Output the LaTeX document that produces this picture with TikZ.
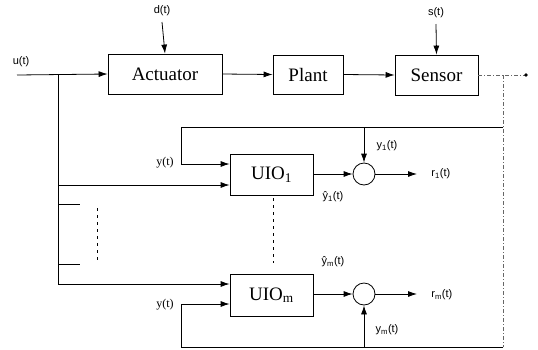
\documentclass[tikz,border=0pt]{standalone}
\usepackage{fontspec}
\setmainfont{Liberation Serif}
\newfontfamily\lblfont{Liberation Sans}
\usetikzlibrary{arrows.meta}
\begin{document}
\begin{tikzpicture}[x=1pt,y=-1pt,
  every path/.style={line width=0.8pt},
  blk/.style={draw,line width=0.8pt,inner sep=0pt,font=\fontsize{19}{20}\selectfont},
  sumc/.style={draw,circle,minimum size=22pt,inner sep=0pt,line width=0.8pt},
  arr/.style={-{Latex[length=9pt,width=6pt]}},
  lbl/.style={font=\lblfont\fontsize{11}{12}\selectfont,inner sep=1pt},
  slbl/.style={font=\fontsize{12}{13}\selectfont,inner sep=1pt},
  gdash/.style={draw=black!60,dash pattern=on 4pt off 2pt on 1pt off 2pt,line width=0.6pt}]
\useasboundingbox (0,0) rectangle (538,349);

% main blocks
\node[blk,minimum width=114pt,minimum height=40pt] (act) at (165,74) {Actuator};
\node[blk,minimum width=70pt,minimum height=39pt] (plant) at (308,74.5) {Plant};
\node[blk,minimum width=83pt,minimum height=40pt] (sens) at (436.5,75) {Sensor};
\node[blk,minimum width=83pt,minimum height=41pt] (uio1) at (271.5,174.5) {UIO\textsubscript{1}};
\node[blk,minimum width=83pt,minimum height=42pt] (uiom) at (271.5,295) {UIO\textsubscript{m}};
\node[sumc] (s1) at (364,174) {};
\node[sumc] (sm) at (364,294) {};

% coordinates
\coordinate (uin) at (17,75);
\coordinate (br) at (58,75);
\coordinate (b1) at (58,185);
\coordinate (bm) at (58,284);
\coordinate (st1a) at (58,204);
\coordinate (st1b) at (80,204);
\coordinate (st2a) at (58,264);
\coordinate (st2b) at (80,264);
\coordinate (dv1) at (97,208);
\coordinate (dv2) at (97,263);
\coordinate (dv3) at (273,198);
\coordinate (dv4) at (273,263);
\coordinate (din) at (162,22);
\coordinate (sin) at (436,24);
\coordinate (oend) at (526,75);
\coordinate (tap) at (503,75);
\coordinate (tapT) at (503,127);
\coordinate (tapB) at (503,347);
\coordinate (cT) at (181,127);
\coordinate (cT2) at (181,164);
\coordinate (cB) at (181,347);
\coordinate (cB2) at (181,304);
\coordinate (y1T) at (364,127);
\coordinate (ymB) at (364,347);
\coordinate (r1) at (417,174);
\coordinate (rm) at (417,294);

% labels
\node[lbl] (lu) at (21,62) {u(t)};
\node[lbl] (ld) at (162,11) {d(t)};
\node[lbl] (ls) at (436,13) {s(t)};
\node[slbl] (ly1) at (165,163) {y(t)};
\node[slbl] (lym) at (165,305) {y(t)};
\node[lbl,anchor=west] (lr1) at (430,174) {r\textsubscript{1}(t)};
\node[lbl,anchor=west] (lrm) at (430,295) {r\textsubscript{m}(t)};
\node[lbl] (lyy1) at (387,146) {y\textsubscript{1}(t)};
\node[lbl] (lyym) at (387,330) {y\textsubscript{m}(t)};
\node[lbl] (lh1) at (333,197) {ŷ\textsubscript{1}(t)};
\node[lbl] (lhm) at (333,262) {ŷ\textsubscript{m}(t)};

% main path
\draw[arr] (uin) -- (act.west);
\draw[arr] (din) -- (act.north);
\draw[arr] (act.east) -- (plant.west);
\draw[arr] (plant.east) -- (sens.west);
\draw[arr] (sin) -- (sens.north);
\draw[gdash] (sens.east) -- (oend);
\fill (oend) circle (1.8pt);
\draw[gdash] (tap) -- (tapB);

% input branches
\draw (br) -- (bm);
\draw[arr] (b1) -- (b1 -| uio1.west);
\draw[arr] (bm) -- (bm -| uiom.west);
\draw (st1a) -- (st1b);
\draw (st2a) -- (st2b);
\draw[dashed,dash pattern=on 3pt off 4pt] (dv1) -- (dv2);
\draw[dashed,dash pattern=on 3pt off 4pt] (dv3) -- (dv4);

% measured output feedback
\draw[arr] (tapT) -- (cT) -- (cT2) -- (cT2 -| uio1.west);
\draw[arr] (tapB) -- (cB) -- (cB2) -- (cB2 -| uiom.west);
\draw[arr] (y1T) -- (s1.north);
\draw[arr] (ymB) -- (sm.south);

% residual generation
\draw[arr] (uio1.east |- s1) -- (s1.west);
\draw[arr] (uiom.east |- sm) -- (sm.west);
\draw[arr] (s1.east) -- (r1);
\draw[arr] (sm.east) -- (rm);
\end{tikzpicture}
\end{document}
